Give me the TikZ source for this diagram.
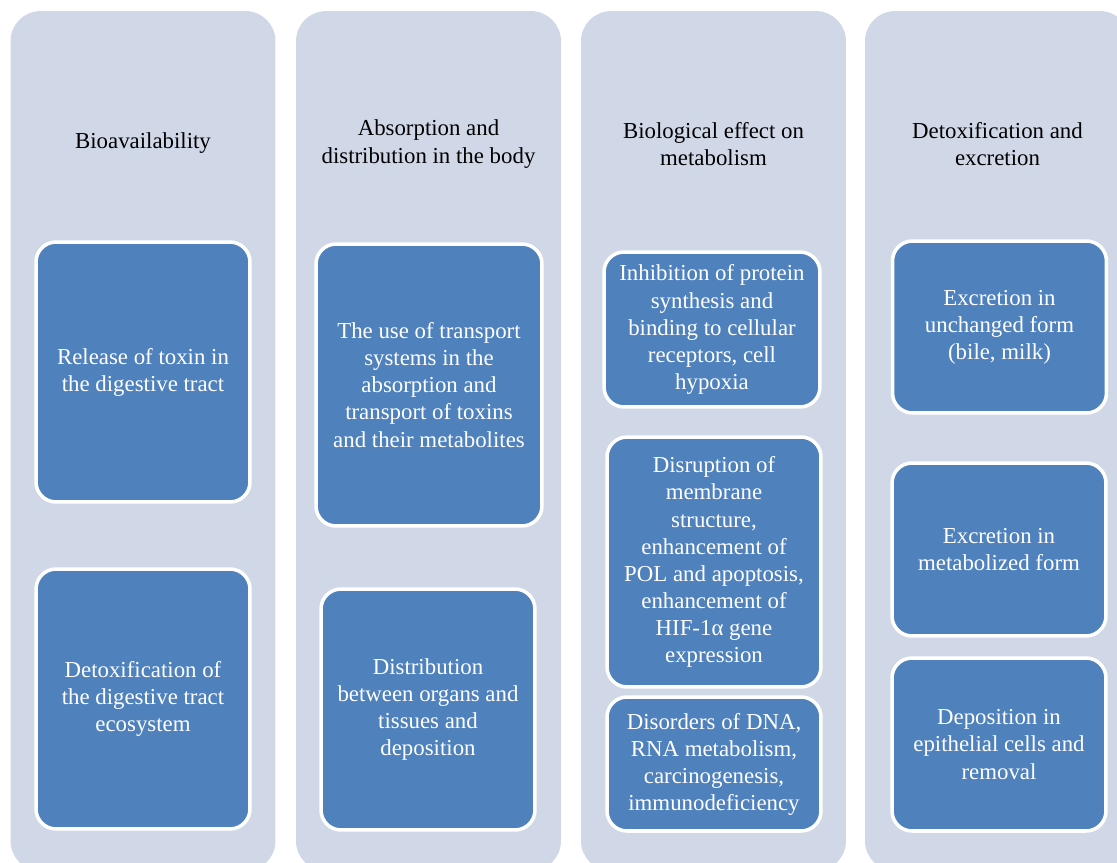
\documentclass[tikz,border=0pt]{standalone}
\usepackage{fontspec}
\setmainfont{Liberation Serif}
\usepackage{tikz}
\definecolor{panelblue}{RGB}{208,216,232}
\definecolor{itemblue}{RGB}{79,129,189}

\begin{document}
\begin{tikzpicture}[x=0.02cm,y=-0.02cm,
	panel/.style={rectangle,rounded corners=0.6cm,fill=panelblue,minimum width=5.3cm,minimum height=17.2cm,inner sep=0pt},
	head/.style={align=center,text=black,font=\fontsize{13}{15.6}\selectfont},
	item/.style={rectangle,rounded corners=0.4cm,fill=itemblue,draw=white,line width=2pt,text=white,align=center,inner sep=0pt,minimum width=4.28cm,font=\fontsize{13}{15.4}\selectfont}]
	\useasboundingbox[fill=white] (0,0) rectangle (1117,863);
	% columns
	\node[panel] (p1) at (143,441) {};
	\node[panel] (p2) at (428.5,441) {};
	\node[panel] (p3) at (713.5,441) {};
	\node[panel] (p4) at (997.5,441) {};
	% headings
	\node[head] (h1) at (143,143) {Bioavailability};
	\node[head] (h2) at (428.5,144) {Absorption and\\distribution in the body};
	\node[head] (h3) at (713.5,144) {Biological effect on\\metabolism};
	\node[head] (h4) at (997.5,144) {Detoxification and\\excretion};
	% first column
	\node[item,minimum height=5.2cm] (b11) at (143,372) {Release of toxin in\\the digestive tract};
	\node[item,minimum height=5.2cm] (b12) at (143,699) {Detoxification of\\the digestive tract\\ecosystem};
	% second column
	\node[item,minimum width=4.52cm,minimum height=5.64cm] (b21) at (429,385) {The use of transport\\systems in the\\absorption and\\transport of toxins\\and their metabolites};
	\node[item,minimum height=4.82cm] (b22) at (428,709.5) {Distribution\\between organs and\\tissues and\\deposition};
	% third column
	\node[item,minimum width=4.32cm,minimum height=3.1cm] (b31) at (712,329.5) {Inhibition of protein\\synthesis and\\binding to cellular\\receptors, cell\\hypoxia};
	\node[item,minimum height=5cm] (b32) at (714,562) {Disruption of\\membrane\\structure,\\enhancement of\\POL and apoptosis,\\enhancement of\\HIF-1α gene\\expression};
	\node[item,minimum height=2.68cm] (b33) at (714,764) {Disorders of DNA,\\RNA metabolism,\\carcinogenesis,\\immunodeficiency};
	% fourth column
	\node[item,minimum height=3.44cm] (b41) at (999.5,327) {Excretion in\\unchanged form\\(bile, milk)};
	\node[item,minimum height=3.46cm] (b42) at (999,549.5) {Excretion in\\metabolized form};
	\node[item,minimum height=3.46cm] (b43) at (999,744.5) {Deposition in\\epithelial cells and\\removal};
\end{tikzpicture}
\end{document}
